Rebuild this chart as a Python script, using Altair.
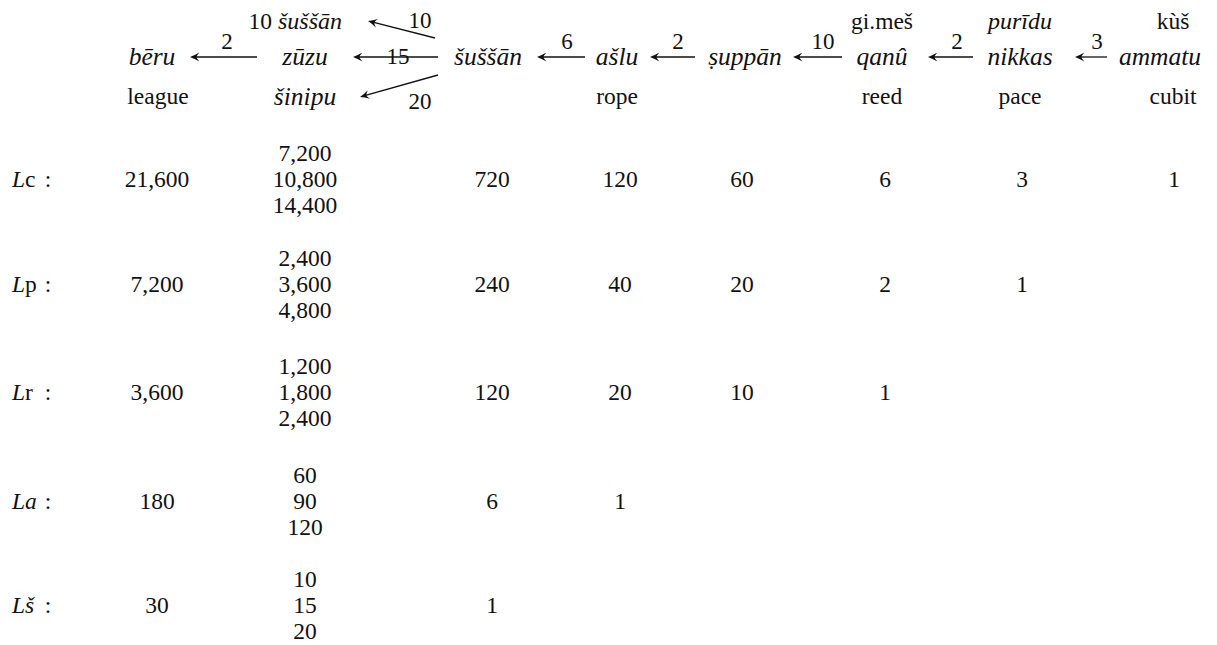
import altair as alt
import pandas as pd
import math

# ---------------- data ----------------
unit_names = ["bēru", "zūzu", "šuššān", "ašlu", "ṣuppān", "qanû", "nikkas", "ammatu"]
top_roman = ["", "", "", "", "", "gi.meš", "", "kùš"]
top_italic = ["", "", "", "", "", "", "purīdu", ""]
bottom_roman = ["league", "", "", "rope", "", "reed", "pace", "cubit"]
bottom_italic = ["", "šinipu", "", "", "", "", "", ""]
alt_sussan_count = "10"
alt_sussan_name = "šuššān"
factors = ["2", "15", "6", "2", "10", "2", "3"]
diag_factors = ["10", "20"]

row_italic = ["L", "L", "L", "La", "Lš"]
row_roman = ["c", "p", "r", "", ""]
beru_vals = ["21,600", "7,200", "3,600", "180", "30"]
zuzu_vals = [["7,200", "10,800", "14,400"],
             ["2,400", "3,600", "4,800"],
             ["1,200", "1,800", "2,400"],
             ["60", "90", "120"],
             ["10", "15", "20"]]
sussan_vals = ["720", "240", "120", "6", "1"]
aslu_vals = ["120", "40", "20", "1", ""]
suppan_vals = ["60", "20", "10", "", ""]
qanu_vals = ["6", "2", "1", "", ""]
nikkas_vals = ["3", "1", "", "", ""]
ammatu_vals = ["1", "", "", "", ""]

# ---------------- layout ----------------
col_x = [157, 305, 492, 620, 742, 885, 1022, 1174]
head_x = [152, 305, 488, 617, 745, 882, 1020, 1160]
top_x = [152, 305, 488, 617, 745, 882, 1020, 1173]
head_y = [22, 57, 97]
row_y = [180, 285, 393, 502, 606]
stack_dy = 26
label_left = 12
roman_left = 25
colon_x = 48
harrows = [(257, 190, 227), (438, 353, 398), (585, 537, 567), (695, 650, 678),
           (842, 793, 823), (973, 928, 957), (1107, 1075, 1097)]
harrow_y = 57
harrow_label_y = [42, 57, 42, 42, 42, 42, 42]
darrows = [((435, 38), (368, 21), (420, 21)), ((438, 75), (360, 97), (420, 102))]
SERIF = "Liberation Serif, Times New Roman, Times, serif"
PAD_TOP = 12
PAD_BOT = 12
FS_DATA = 23.5
FS_HEAD_IT = 25.5
FS_TOP_IT = 24
FS_HEAD_RM = 23.5
FS_LAB = 23

# ---------------- build tables ----------------
items = []
def add(t, x, y, style="normal", align="center", size=FS_DATA):
    if t:
        items.append(dict(t=t, x=x, y=y, style=style, align=align, size=size))

for i, n in enumerate(unit_names):
    add(n, head_x[i], head_y[1], "italic", size=FS_HEAD_IT)
    add(top_roman[i], top_x[i], head_y[0], size=FS_HEAD_RM)
    add(top_italic[i], top_x[i], head_y[0], "italic", size=FS_TOP_IT)
    add(bottom_roman[i], top_x[i] if i >= 5 else (head_x[i] + (6 if i == 0 else 0)), head_y[2], size=FS_DATA)
    add(bottom_italic[i], head_x[i], head_y[2], "italic", size=FS_HEAD_IT)
add(alt_sussan_count, 272, head_y[0], align="right", size=FS_HEAD_RM)
add(alt_sussan_name, 278, head_y[0], "italic", align="left", size=FS_TOP_IT)

for k, (xt, xh, lx) in enumerate(harrows):
    add(factors[k], lx, harrow_label_y[k], size=FS_LAB)
for k, (_, _, (lx, ly)) in enumerate(darrows):
    add(diag_factors[k], lx, ly, size=FS_LAB)

cols = [beru_vals, None, sussan_vals, aslu_vals, suppan_vals, qanu_vals, nikkas_vals, ammatu_vals]
for r, y in enumerate(row_y):
    add(row_italic[r], label_left, y, "italic", align="left")
    add(row_roman[r], roman_left, y, align="left")
    add(":", colon_x, y)
    for c, vals in enumerate(cols):
        if vals is None:
            for s, v in enumerate(zuzu_vals[r]):
                add(v, col_x[c], y + (s - 1) * stack_dy)
        else:
            add(vals[r], col_x[c], y)

df = pd.DataFrame(items)

lines = []
heads = []
for k, (xt, xh, _) in enumerate(harrows):
    lines.append(dict(x=xt, y=harrow_y, x2=xh + 3, y2=harrow_y))
    heads.append(dict(x=xh, y=harrow_y, a=0))
for (t, h, _) in darrows:
    dx, dy = h[0] - t[0], h[1] - t[1]
    L = math.hypot(dx, dy)
    lines.append(dict(x=t[0], y=t[1], x2=h[0] - 3 * dx / L, y2=h[1] - 3 * dy / L))
    ang = math.degrees(math.atan2(-dy / L, -dx / L)) % 360
    heads.append(dict(x=h[0], y=h[1], a=ang))
ldf = pd.DataFrame(lines)
hdf = pd.DataFrame(heads)

xs = alt.Scale(domain=[8, 1209], nice=False, zero=False)
ys = alt.Scale(domain=[8 + PAD_TOP, 637 - PAD_BOT], nice=False, zero=False, reverse=True)

layers = []
for style in ["normal", "italic"]:
    for align in ["left", "center", "right"]:
        for size in sorted(df["size"].unique()):
            sub = df[(df["style"] == style) & (df["align"] == align) & (df["size"] == size)]
            if len(sub) == 0:
                continue
            layers.append(
                alt.Chart(sub).mark_text(font=SERIF, fontStyle=style, fontSize=float(size),
                                         align=align, baseline="middle", color="#111")
                .encode(x=alt.X("x:Q", scale=xs, axis=None),
                        y=alt.Y("y:Q", scale=ys, axis=None),
                        text="t:N")
            )

rules = alt.Chart(ldf).mark_rule(color="#111", strokeWidth=1.3).encode(
    x=alt.X("x:Q", scale=xs, axis=None), y=alt.Y("y:Q", scale=ys, axis=None),
    x2="x2:Q", y2="y2:Q")

arrow_shape = "M0,0 Q1,-0.35 2.1,-1 Q1.45,-0.3 1.45,0 Q1.45,0.3 2.1,1 Q1,0.35 0,0 Z"
points = alt.Chart(hdf).mark_point(shape=arrow_shape, filled=True, color="#111",
                                   opacity=1, size=80, strokeWidth=0).encode(
    x=alt.X("x:Q", scale=xs, axis=None), y=alt.Y("y:Q", scale=ys, axis=None),
    angle=alt.Angle("a:Q", scale=None))

chart = alt.layer(rules, points, *layers).properties(
    width=1201, height=629 - PAD_TOP - PAD_BOT, autosize=alt.AutoSizeParams(type="none"),
    padding={"left": 0, "right": 0, "top": PAD_TOP, "bottom": PAD_BOT + 20}
).configure_view(stroke=None)

chart.save("out.html", embed_options={"renderer": "svg", "actions": False})
